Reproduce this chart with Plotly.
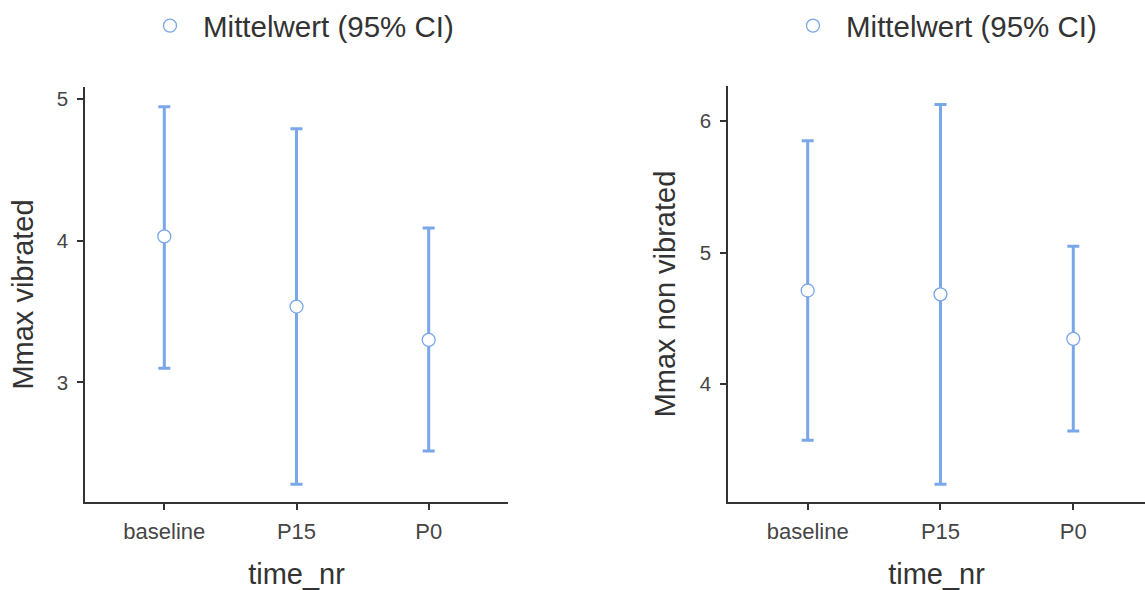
import plotly.graph_objects as go

# Categories on the x axis
time_nr = ["baseline", "P15", "P0"]

# Mmax vibrated: mean with 95% CI bounds
vib_mean = [4.03, 3.535, 3.30]
vib_lower = [3.10, 2.28, 2.515]
vib_upper = [4.945, 4.79, 4.09]

# Mmax non vibrated: mean with 95% CI bounds
nonvib_mean = [4.712, 4.683, 4.345]
nonvib_lower = [3.575, 3.24, 3.645]
nonvib_upper = [5.85, 6.125, 5.048]

BLUE = "rgb(122,166,234)"
AXIS = "#333333"
TEXT = "#333333"
TICKTEXT = "#454545"
FONT = "Liberation Sans, Arial, sans-serif"


def ci_trace(mean, lower, upper, xaxis, yaxis, legend):
    return go.Scatter(
        x=time_nr,
        y=mean,
        mode="markers",
        name="Mittelwert (95% CI)",
        xaxis=xaxis,
        yaxis=yaxis,
        legend=legend,
        marker=dict(size=13, color="white", line=dict(color=BLUE, width=1.3)),
        error_y=dict(
            type="data",
            symmetric=False,
            array=[u - m for u, m in zip(upper, mean)],
            arrayminus=[m - l for m, l in zip(mean, lower)],
            color=BLUE,
            thickness=3,
            width=6,
        ),
    )


fig = go.Figure()
fig.add_trace(ci_trace(vib_mean, vib_lower, vib_upper, "x", "y", "legend"))
fig.add_trace(ci_trace(nonvib_mean, nonvib_lower, nonvib_upper, "x2", "y2", "legend2"))

W, H = 1145, 590

common_x = dict(
    type="category",
    showline=True,
    linecolor=AXIS,
    linewidth=1.6,
    ticks="outside",
    ticklen=6,
    tickwidth=1.6,
    tickcolor=AXIS,
    showgrid=False,
    zeroline=False,
    ticklabelstandoff=3,
    tickfont=dict(size=22, color=TICKTEXT, family=FONT),
    title=dict(text="time_nr", font=dict(size=29, color=TEXT, family=FONT), standoff=22),
)
common_y = dict(
    showline=True,
    linecolor=AXIS,
    linewidth=1.6,
    ticks="outside",
    ticklen=6,
    tickwidth=1.6,
    tickcolor=AXIS,
    showgrid=False,
    zeroline=False,
    ticklabelstandoff=5,
    tickfont=dict(size=20.5, color=TICKTEXT, family=FONT),
)

legend_common = dict(
    y=1.0, xanchor="left", yanchor="top",
    orientation="h", bgcolor="rgba(0,0,0,0)",
    itemwidth=56,
    font=dict(size=29.5, color=TEXT, family=FONT),
)

fig.update_layout(
    width=W,
    height=H,
    margin=dict(l=0, r=0, t=0, b=0),
    paper_bgcolor="white",
    plot_bgcolor="white",
    font=dict(family=FONT, color=TEXT),
    xaxis=dict(common_x, domain=[85 / W, 508 / W], range=[-0.6, 2.6], anchor="y"),
    yaxis=dict(
        common_y,
        domain=[(H - 502) / H, (H - 87) / H],
        range=[2.155, 5.085],
        tickvals=[3, 4, 5],
        anchor="x",
        title=dict(text="Mmax vibrated", font=dict(size=29, color=TEXT, family=FONT), standoff=15),
    ),
    xaxis2=dict(common_x, domain=[728 / W, 1.0], range=[-0.6, 2.54], anchor="y2"),
    yaxis2=dict(
        common_y,
        domain=[(H - 502) / H, (H - 86) / H],
        range=[3.106, 6.265],
        tickvals=[4, 5, 6],
        anchor="x2",
        title=dict(text="Mmax non vibrated", font=dict(size=29, color=TEXT, family=FONT), standoff=16),
    ),
    legend=dict(legend_common, x=137 / W),
    legend2=dict(legend_common, x=780 / W),
    showlegend=True,
)

fig.write_html("out.html")
